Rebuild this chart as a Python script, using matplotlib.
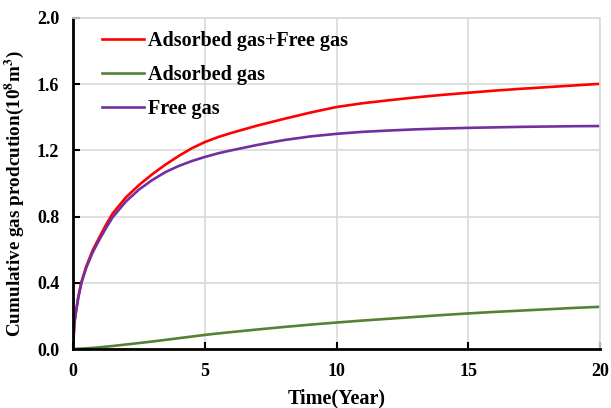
import numpy as np
import matplotlib.pyplot as plt

# Time (years) and cumulative production (1e8 m^3)
years = [0, 0.05, 0.1, 0.2, 0.32, 0.5, 0.75, 1, 1.25, 1.5, 2, 2.5, 3, 3.5, 4, 4.5,
         5, 5.5, 6, 7, 8, 9, 10, 11, 12, 13, 14, 15, 16, 17, 18, 19, 20]
free_gas = [0, 0.15, 0.21, 0.31, 0.40, 0.49, 0.585, 0.66, 0.73, 0.795, 0.89, 0.963,
            1.02, 1.068, 1.105, 1.135, 1.16, 1.182, 1.20, 1.233, 1.262, 1.284, 1.300,
            1.312, 1.320, 1.327, 1.332, 1.336, 1.339, 1.342, 1.344, 1.346, 1.347]
adsorbed_gas = [0, 0.0003, 0.0007, 0.0015, 0.0025, 0.004, 0.007, 0.01, 0.014, 0.018,
                0.027, 0.036, 0.045, 0.055, 0.065, 0.075, 0.085, 0.094, 0.102, 0.118,
                0.133, 0.147, 0.160, 0.172, 0.183, 0.194, 0.205, 0.215, 0.224, 0.232,
                0.240, 0.248, 0.255]
total_gas = [0, 0.155, 0.215, 0.315, 0.405, 0.498, 0.598, 0.675, 0.75, 0.818, 0.915,
             0.99, 1.055, 1.113, 1.165, 1.212, 1.25, 1.28, 1.305, 1.35, 1.39, 1.428,
             1.462, 1.485, 1.503, 1.52, 1.535, 1.548, 1.561, 1.572, 1.582, 1.592, 1.602]

x_ticks = [0, 5, 10, 15, 20]
y_ticks = [0.0, 0.4, 0.8, 1.2, 1.6, 2.0]

plt.rcParams['font.family'] = ['Liberation Serif', 'DejaVu Serif']
plt.rcParams['font.weight'] = 'bold'
plt.rcParams['mathtext.fontset'] = 'stix'
plt.rcParams['mathtext.default'] = 'bf'

fig = plt.figure(figsize=(6.11, 4.08), dpi=100)
ax = fig.add_axes([0.1195, 0.1446, 0.8625, 0.8114])

ax.plot(years, total_gas, color='#ff0000', lw=1.9, label='Adsorbed gas+Free gas')
ax.plot(years, adsorbed_gas, color='#548235', lw=1.9, label='Adsorbed gas')
ax.plot(years, free_gas, color='#7030a0', lw=1.9, label='Free gas')

ax.set_xlim(0, 20)
ax.set_ylim(0, 2.0)
ax.set_xticks(x_ticks)
ax.set_yticks(y_ticks)
ax.set_yticklabels([f'{v:.1f}' for v in y_ticks])
ax.grid(True, color='#d9d9d9', lw=1.2)
ax.set_axisbelow(True)

for side in ['top', 'right']:
    ax.spines[side].set_color('#d9d9d9')
    ax.spines[side].set_linewidth(1.2)
for side in ['left', 'bottom']:
    ax.spines[side].set_color('black')
    ax.spines[side].set_linewidth(2)

ax.tick_params(direction='in', length=5, width=1.5, labelsize=13, pad=10)

ax.set_xlabel('Time(Year)', fontsize=14.5, fontweight='bold', labelpad=6)
ax.set_ylabel(r'Cumulative gas prodcution(10$^{8}$m$^{3}$)', fontsize=13.8,
              fontweight='bold')
ax.yaxis.set_label_coords(-0.09, 0.47)

ax.legend(loc='upper left', frameon=False, fontsize=14.5, handlelength=2.1,
          handletextpad=0.2, labelspacing=0.7, borderaxespad=0, borderpad=0,
          bbox_to_anchor=(0.055, 0.96))

fig.savefig('out.png', dpi=100)
